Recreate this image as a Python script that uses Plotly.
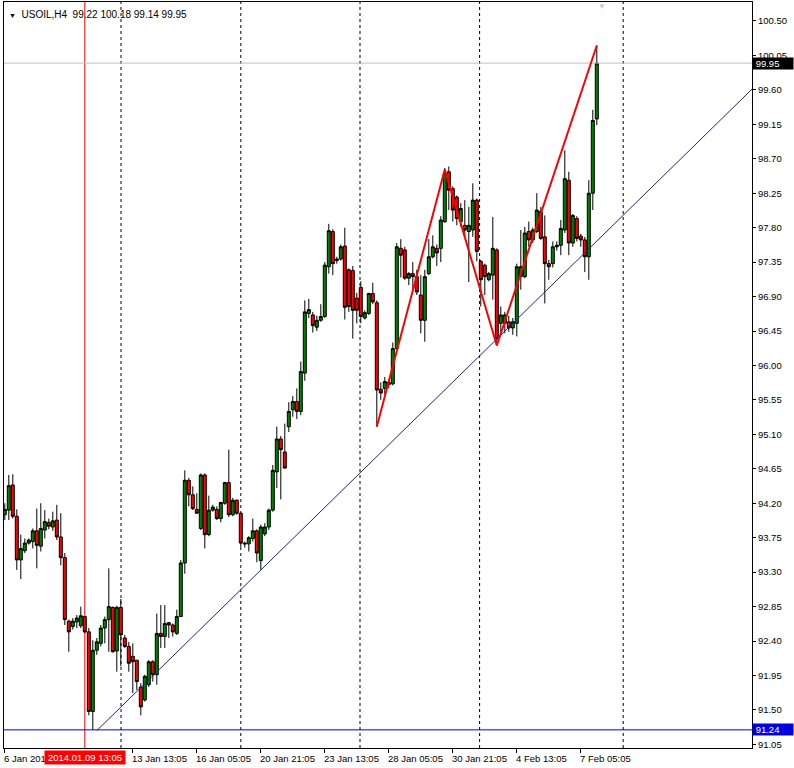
import plotly.graph_objects as go

# ---------------- data ----------------
bars = list(range(1, 150))

opens = [94.05, 94.11, 94.44, 94.03, 93.46, 93.58, 93.68, 93.70, 93.84, 93.64,
         93.85, 93.95, 93.89, 93.98, 93.76, 93.49, 92.66, 92.59, 92.65, 92.60,
         92.72, 92.52, 91.48, 92.28, 92.37, 92.57, 92.68, 92.84, 92.27, 92.84,
         92.44, 92.33, 92.20, 92.15, 91.80, 91.63, 91.83, 92.13, 91.96, 92.50,
         92.46, 92.64, 92.61, 92.50, 92.72, 93.42, 94.50, 94.31, 94.12, 93.87,
         94.57, 93.79, 94.11, 94.12, 94.00, 94.20, 94.47, 94.05, 94.24, 94.07,
         93.68, 93.67, 93.74, 93.84, 93.45, 93.80, 93.89, 94.11, 94.61, 95.04,
         94.87, 95.20, 95.42, 95.53, 95.40, 95.90, 96.68, 96.66, 96.50, 96.59,
         96.64, 97.29, 97.75, 97.37, 97.39, 97.56, 97.25, 97.24, 96.88, 97.02,
         96.62, 96.68, 96.94, 96.82, 95.69, 95.70, 95.75, 95.76, 96.22, 97.53,
         97.51, 97.14, 97.20, 97.16, 96.92, 96.59, 97.20, 97.42, 97.53, 97.53,
         97.88, 98.53, 98.31, 98.20, 97.88, 97.83, 97.75, 97.77, 98.16, 97.36,
         97.31, 97.12, 97.18, 97.51, 96.55, 96.55, 96.57, 96.49, 96.55, 97.16,
         97.16, 97.75, 97.64, 97.75, 98.01, 97.68, 97.33, 97.33, 97.55, 97.57,
         97.77, 98.42, 97.60, 97.92, 97.69, 97.64, 97.42, 98.25, 99.22]

highs = [94.20, 94.57, 94.58, 94.12, 93.79, 93.74, 93.74, 93.87, 94.13, 94.20,
         94.11, 94.00, 94.09, 94.18, 94.07, 93.55, 92.68, 92.70, 92.74, 92.85,
         92.73, 92.57, 92.41, 92.44, 92.61, 92.72, 93.35, 92.85, 92.86, 92.95,
         92.48, 92.39, 92.37, 92.15, 91.85, 91.96, 92.15, 92.15, 92.76, 92.87,
         92.87, 92.65, 92.63, 92.81, 93.46, 94.63, 94.53, 94.42, 94.33, 94.59,
         94.59, 94.30, 94.18, 94.16, 94.22, 94.48, 94.90, 94.27, 94.25, 94.08,
         93.70, 93.77, 94.00, 93.86, 93.92, 93.94, 94.13, 94.70, 95.20, 95.08,
         95.24, 95.52, 95.60, 95.70, 96.05, 96.85, 96.87, 96.70, 96.65, 96.80,
         97.35, 97.85, 97.78, 97.42, 97.58, 97.80, 97.27, 97.30, 96.95, 97.10,
         96.72, 96.95, 97.08, 96.85, 95.78, 95.85, 95.82, 96.30, 97.60, 97.65,
         97.55, 97.22, 97.35, 97.25, 97.18, 97.25, 97.65, 97.70, 97.58, 97.95,
         98.58, 98.60, 98.34, 98.22, 98.12, 98.16, 98.07, 98.38, 98.18, 97.38,
         97.33, 97.22, 97.94, 97.53, 96.77, 96.70, 96.65, 96.62, 97.33, 97.77,
         97.81, 97.88, 97.80, 98.25, 98.07, 97.96, 97.38, 97.62, 97.62, 97.90,
         98.81, 98.53, 97.98, 97.95, 97.72, 97.68, 98.42, 99.34, 100.18]

lows = [93.98, 93.98, 94.00, 93.33, 93.21, 93.55, 93.66, 93.61, 93.35, 93.57,
        93.74, 93.86, 93.84, 93.72, 93.39, 92.61, 92.26, 92.55, 92.57, 92.57,
        92.50, 91.43, 91.24, 92.22, 92.33, 92.37, 92.26, 92.25, 92.00, 92.07,
        92.31, 92.00, 91.72, 91.76, 91.43, 91.61, 91.80, 91.87, 91.83, 92.31,
        92.31, 92.44, 92.46, 92.48, 92.72, 93.28, 94.16, 94.11, 94.06, 93.85,
        93.61, 93.77, 94.09, 93.98, 93.95, 94.18, 94.02, 94.03, 94.05, 93.63,
        93.62, 93.57, 93.70, 93.43, 93.33, 93.77, 93.85, 94.09, 94.40, 94.25,
        94.65, 95.13, 95.33, 95.30, 95.35, 95.80, 96.62, 96.43, 96.45, 96.57,
        96.62, 97.20, 97.18, 97.33, 97.37, 96.60, 96.70, 96.35, 96.55, 96.55,
        96.60, 96.66, 96.80, 95.20, 95.55, 95.62, 95.70, 95.74, 96.20, 97.15,
        97.12, 97.05, 97.00, 96.92, 96.42, 96.31, 97.18, 97.40, 97.30, 97.35,
        97.86, 98.03, 97.88, 97.83, 97.81, 97.68, 97.09, 97.68, 97.36, 96.77,
        96.92, 97.10, 96.86, 96.28, 96.40, 96.42, 96.44, 96.40, 96.38, 96.99,
        97.14, 97.55, 97.60, 97.73, 97.64, 96.81, 97.12, 97.28, 97.50, 97.44,
        97.73, 97.44, 97.55, 97.62, 97.55, 97.22, 97.12, 98.03, 99.14]

closes = [94.12, 94.43, 94.03, 93.46, 93.61, 93.68, 93.72, 93.84, 93.65, 93.87,
          93.96, 93.90, 93.97, 93.76, 93.49, 92.68, 92.52, 92.66, 92.70, 92.73,
          92.52, 91.48, 92.28, 92.39, 92.57, 92.68, 92.85, 92.26, 92.84, 92.48,
          92.33, 92.11, 92.13, 91.87, 91.54, 91.94, 92.13, 91.96, 92.50, 92.46,
          92.63, 92.61, 92.52, 92.72, 93.42, 94.50, 94.31, 94.13, 94.07, 94.57,
          93.79, 94.11, 94.15, 94.00, 94.21, 94.47, 94.05, 94.24, 94.07, 93.68,
          93.67, 93.75, 93.84, 93.55, 93.89, 93.89, 94.11, 94.63, 95.04, 94.90,
          94.66, 95.40, 95.53, 95.40, 95.92, 96.70, 96.73, 96.52, 96.59, 96.64,
          97.31, 97.76, 97.33, 97.39, 97.55, 96.76, 96.77, 96.72, 96.72, 96.64,
          96.69, 96.94, 96.83, 95.68, 95.64, 95.79, 95.78, 96.22, 97.55, 97.44,
          97.14, 97.20, 97.16, 96.96, 96.59, 97.16, 97.42, 97.55, 97.47, 97.90,
          98.51, 98.29, 98.03, 97.92, 98.05, 97.77, 97.83, 98.16, 97.49, 97.12,
          97.16, 97.20, 97.53, 96.35, 96.66, 96.66, 96.49, 96.57, 97.29, 97.29,
          97.73, 97.64, 97.77, 98.03, 97.66, 97.33, 97.29, 97.55, 97.57, 97.79,
          98.44, 97.60, 97.96, 97.66, 97.64, 97.42, 98.25, 99.20, 99.95]

price_ticks = [91.05, 91.50, 91.95, 92.40, 92.85, 93.30, 93.75, 94.20, 94.65,
               95.10, 95.55, 96.00, 96.45, 96.90, 97.35, 97.80, 98.25, 98.70,
               99.15, 99.60, 100.05, 100.50]
price_labels = ["91.05", "91.50", "91.95", "92.40", "92.85", "93.30", "93.75",
                "94.20", "94.65", "95.10", "95.55", "96.00", "96.45", "96.90",
                "97.35", "97.80", "98.25", "98.70", "99.15", "99.60", "100.05",
                "100.50"]

time_tick_bars = [1, 33, 49, 65, 81, 97, 113, 129, 145]
time_labels = ["6 Jan 2014", "13 Jan 13:05", "16 Jan 05:05", "20 Jan 21:05",
               "23 Jan 13:05", "28 Jan 05:05", "30 Jan 21:05", "4 Feb 13:05",
               "7 Feb 05:05"]

separator_bars = [30.05, 60.0, 89.8, 119.7, 155.6]
vline_bar = 21
vline_label = "2014.01.09 13:05"
hline_price = 91.24
bid_price = 99.95
trend_x = [24.0, 187.8]
trend_y = [91.23, 99.61]
zigzag_x = [94, 111, 124, 149]
zigzag_y = [95.20, 98.56, 96.26, 100.18]
symbol = "USOIL,H4"

X_RANGE = [0.8, 187.8]
Y_RANGE = [91.003, 100.748]
FONT = "Liberation Sans, Arial, sans-serif"

fig = go.Figure()

# horizontal / reference lines (drawn beneath candles)
fig.add_trace(go.Scatter(x=X_RANGE, y=[bid_price, bid_price], mode="lines",
                         line=dict(color="#c0c0c0", width=1), hoverinfo="skip"))
fig.add_trace(go.Scatter(x=X_RANGE, y=[hline_price, hline_price], mode="lines",
                         line=dict(color="#0000e0", width=1), hoverinfo="skip"))
fig.add_trace(go.Scatter(x=trend_x, y=trend_y, mode="lines",
                         line=dict(color="#2020a0", width=1), hoverinfo="skip"))

shapes = []
for sb in separator_bars:
    shapes.append(dict(type="line", xref="x", yref="paper", x0=sb, x1=sb, y0=0, y1=1,
                       line=dict(color="black", width=1, dash="3px,3px"), layer="below"))
shapes.append(dict(type="line", xref="x", yref="paper", x0=vline_bar, x1=vline_bar,
                   y0=0, y1=1, line=dict(color="#ff0000", width=1), layer="below"))

fig.add_trace(go.Candlestick(
    x=bars, open=opens, high=highs, low=lows, close=closes,
    increasing=dict(line=dict(color="black", width=1), fillcolor="#008000"),
    decreasing=dict(line=dict(color="black", width=1), fillcolor="#ff0000"),
    whiskerwidth=0, hoverinfo="skip"))

fig.add_trace(go.Scatter(x=zigzag_x, y=zigzag_y, mode="lines",
                         line=dict(color="#ff0000", width=2), hoverinfo="skip"))

annotations = []
# x-axis labels (left aligned at tick like MetaTrader)
for tb, tl in zip(time_tick_bars, time_labels):
    annotations.append(dict(x=tb, y=0, xref="x", yref="paper", text=tl,
                            showarrow=False, xanchor="left", yanchor="top",
                            xshift=-3, yshift=-3,
                            font=dict(family=FONT, size=9.5, color="black")))
annotations.append(dict(x=vline_bar, y=0, xref="x", yref="paper", text=vline_label,
                        showarrow=False, xanchor="center", yanchor="top", yshift=-2,
                        bgcolor="#ff0000", borderpad=1, width=78,
                        font=dict(family=FONT, size=9.5, color="white")))
# right-side price labels
pad = "&nbsp;" * 5
annotations.append(dict(x=1, y=bid_price, xref="paper", yref="y",
                        text=f"&nbsp;{bid_price:.2f}{pad}",
                        showarrow=False, xanchor="left", yanchor="middle", xshift=0,
                        bgcolor="black", borderpad=0, align="left",
                        font=dict(family=FONT, size=9.5, color="white")))
annotations.append(dict(x=1, y=hline_price, xref="paper", yref="y",
                        text=f"&nbsp;{hline_price:.2f}{pad}",
                        showarrow=False, xanchor="left", yanchor="middle", xshift=0,
                        bgcolor="#0000e0", borderpad=0, align="left",
                        font=dict(family=FONT, size=9.5, color="white")))
# header
header = (f"<span style='font-size:7px'>▼</span>  {symbol}  {opens[-1]:.2f} "
          f"{highs[-1]:.2f} {lows[-1]:.2f} {closes[-1]:.2f}")
annotations.append(dict(x=0, y=1, xref="paper", yref="paper", text=header,
                        showarrow=False, xanchor="left", yanchor="top",
                        xshift=3, yshift=-5,
                        font=dict(family=FONT, size=10, color="black")))
annotations.append(dict(x=bars[-1] + 1.3, y=1, xref="x", yref="paper", text="▼",
                        showarrow=False, xanchor="center", yanchor="top", yshift=2,
                        font=dict(family=FONT, size=8, color="#c8c8c8")))

fig.update_layout(
    width=794, height=768,
    margin=dict(l=4, r=42, t=2, b=20),
    plot_bgcolor="white", paper_bgcolor="white",
    showlegend=False,
    boxgap=0.25, boxgroupgap=0.0,
    shapes=shapes, annotations=annotations,
    xaxis=dict(range=X_RANGE, showgrid=False, zeroline=False,
               showline=True, mirror=True, linecolor="black", linewidth=1,
               tickvals=time_tick_bars, ticktext=[""] * len(time_tick_bars),
               ticks="outside", ticklen=4, tickcolor="black",
               rangeslider=dict(visible=False), fixedrange=True),
    yaxis=dict(range=Y_RANGE, side="right", showgrid=False, zeroline=False,
               showline=True, mirror=True, linecolor="black", linewidth=1,
               tickvals=price_ticks, ticktext=price_labels,
               ticks="outside", ticklen=3, tickcolor="black",
               tickfont=dict(family=FONT, size=9.5, color="black"), fixedrange=True),
)

fig.write_html("out.html", config={"displayModeBar": False})

# remove the browser's default 8px page margin so the figure sits at (0, 0)
with open("out.html", "r", encoding="utf-8") as fh:
    page = fh.read()
page = page.replace("<head>", "<head><style>html,body{margin:0;padding:0;overflow:hidden;}</style>", 1)
with open("out.html", "w", encoding="utf-8") as fh:
    fh.write(page)
